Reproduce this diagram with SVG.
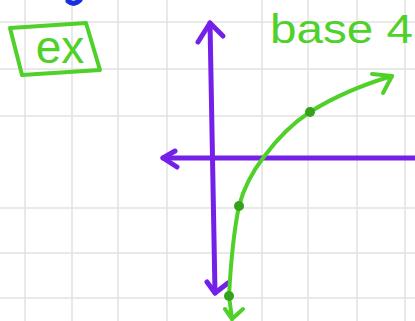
<svg xmlns="http://www.w3.org/2000/svg" width="415" height="321" viewBox="0 0 415 321">
<style>
.grid{stroke:#e2e2e2;stroke-width:1.5;fill:none}
.axis{stroke:#7420e8;stroke-width:5;fill:none;stroke-linecap:round;stroke-linejoin:round}
.curve{stroke:#4fd12a;stroke-width:4;fill:none;stroke-linecap:round;stroke-linejoin:round}
.dot{fill:#35a21c}
.lbl{font-family:'Liberation Sans',Arial,sans-serif;fill:#4fd12a}
</style>
<rect width="415" height="321" fill="#ffffff"/>
<g id="grid" class="grid">
<path d="M25 0V321M72 0V321M118 0V321M167 0V321M262 0V321M308 0V321M357 0V321M405 0V321"/>
<path d="M0 22H415M0 69H415M0 116H415M0 208H415M0 253H415M0 298H415"/>
</g>
<g id="blue-mark"><path d="M68 1 Q74 6 80 0" stroke="#1a2fe0" stroke-width="5" fill="none" stroke-linecap="round"/></g>
<g id="ex-box">
<path d="M10 28 L86 23 L100 70 L22 75 Z" stroke="#4fd12a" stroke-width="4" fill="none" stroke-linejoin="round"/>
<text class="lbl" x="60" y="63" font-size="46" text-anchor="middle">ex</text>
</g>
<g id="title"><text class="lbl" x="270" y="43" font-size="40" textLength="143" lengthAdjust="spacingAndGlyphs">base 4</text></g>
<g id="axes">
<path class="axis" d="M210 23 L215 293"/>
<path class="axis" d="M198 42 L210 23 L223 36"/>
<path class="axis" d="M207 282 L215 293 L228 283"/>
<path class="axis" d="M163 158 L415 158"/>
<path class="axis" d="M175 151 L163 158 L177 167"/>
</g>
<g id="connectors">
<path class="curve" d="M232 319 L229 296 Q232 240 239 206 Q246 180 263 158 Q285 128 310 112 Q345 90 392 76"/>
<path class="curve" d="M372 74 L392 76 L383 93"/>
<path class="curve" d="M225 309 L232 319 L243 309"/>
</g>
<g id="points">
<circle class="dot" cx="239" cy="206" r="5"/>
<circle class="dot" cx="310" cy="112" r="5"/>
<circle class="dot" cx="229" cy="296" r="5"/>
</g>
</svg>
